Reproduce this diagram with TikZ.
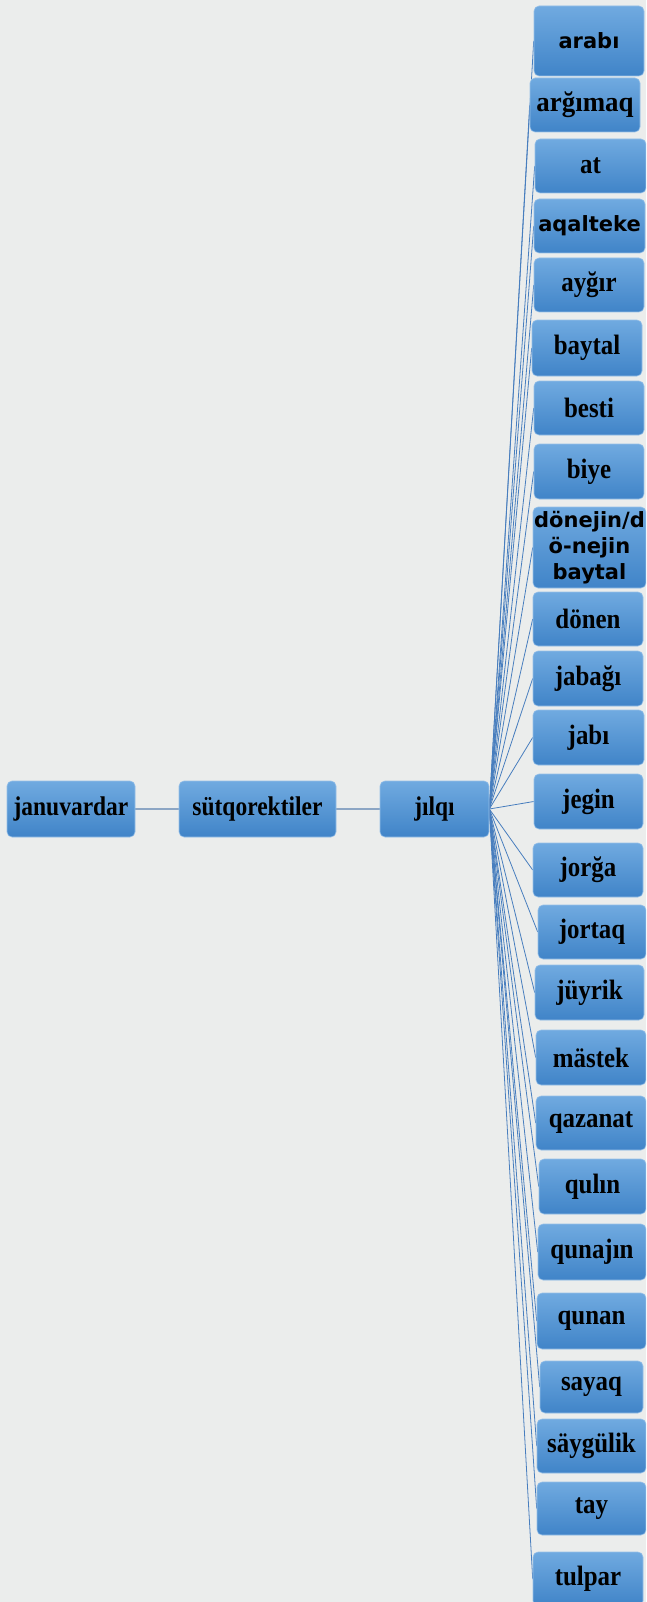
\documentclass[tikz,border=0pt]{standalone}
\usepackage{graphicx}
\usepackage{fontspec}
\setmainfont{Liberation Serif}
\newfontfamily\sansfam{DejaVu Sans}
\usetikzlibrary{backgrounds}
\definecolor{bg}{RGB}{235,237,236}
\definecolor{boxtop}{RGB}{112,170,224}
\definecolor{boxbot}{RGB}{64,132,200}
\definecolor{boxedge}{RGB}{150,192,232}
\definecolor{fan}{RGB}{72,126,190}
\definecolor{link}{RGB}{140,166,196}
% left-column serif labels
\newcommand\lefttxt[1]{\scalebox{0.87}[1]{\fontsize{27}{30}\selectfont\bfseries #1}}
% right-column serif labels
\newcommand\righttxt[2][0.89]{\scalebox{#1}[1]{\fontsize{28}{31}\selectfont\bfseries #2}}
\newcommand\sanstxt[1]{{\sansfam\bfseries\fontsize{21}{26}\selectfont #1}}
\tikzset{
  box/.style={rectangle, rounded corners=5pt, top color=boxtop, bottom color=boxbot,
    draw=boxedge, line width=0.6pt, inner sep=0pt, text=black},
  fanline/.style={draw=fan, line width=0.8pt},
  linkline/.style={draw=link, line width=1.6pt}
}
% \bx{name}{left}{top}{right}{bottom}{text}
\newcommand\bx[6]{\node[box, minimum width={#4pt-#2pt}, minimum height={#5pt-#3pt}] (#1) at ({(#2+#4)/2},{(#3+#5)/2}) {#6};}
\begin{document}
\begin{tikzpicture}[x=1pt,y=-1pt]
\useasboundingbox (0,0) rectangle (646,1602);
\begin{scope}
\clip (0,0) rectangle (646,1602);
\bx{januvardar}{7}{781}{135}{837}{\lefttxt{januvardar}}
\bx{sut}{179}{781}{336}{837}{\lefttxt{sütqorektiler}}
\bx{jilqi}{380}{781}{489}{837}{\lefttxt{jılqı}}

\bx{r1}{534}{6}{644}{76}{\sanstxt{arabı}}
\bx{r2}{530}{78}{640}{132}{\righttxt[0.96]{arğımaq}}
\bx{r3}{535}{139}{646}{193}{\righttxt{at}}
\bx{r4}{534}{199}{645}{253}{\sanstxt{aqalteke}}
\bx{r5}{534}{258}{644}{312}{\righttxt{ayğır}}
\bx{r6}{532}{320}{642}{376}{\righttxt{baytal}}
\bx{r7}{534}{381}{644}{435}{\righttxt{besti}}
\bx{r8}{534}{444}{644}{499}{\righttxt{biye}}
\node[box, minimum width=113pt, minimum height=81pt, align=center,
  font={\sansfam\bfseries\fontsize{21}{26}\selectfont}] (r9) at (589.5,547.5)
  {dönejin/d\\ö-nejin\\baytal};
\bx{r10}{533}{592}{643}{646}{\righttxt{dönen}}
\bx{r11}{533}{651}{643}{706}{\righttxt{jabağı}}
\bx{r12}{533}{710}{644}{765}{\righttxt{jabı}}
\bx{r13}{534}{774}{643}{829}{\righttxt{jegin}}
\bx{r14}{533}{843}{643}{897}{\righttxt{jorğa}}
\bx{r15}{538}{905}{646}{959}{\righttxt{jortaq}}
\bx{r16}{535}{965}{644}{1020}{\righttxt{jüyrik}}
\bx{r17}{536}{1030}{646}{1085}{\righttxt{mästek}}
\bx{r18}{536}{1096}{646}{1150}{\righttxt{qazanat}}
\bx{r19}{539}{1159}{646}{1214}{\righttxt{qulın}}
\bx{r20}{538}{1224}{646}{1280}{\righttxt{qunajın}}
\bx{r21}{537}{1293}{646}{1349}{\righttxt{qunan}}
\bx{r22}{540}{1361}{643}{1413}{\righttxt{sayaq}}
\bx{r23}{537}{1419}{646}{1473}{\righttxt{säygülik}}
\bx{r24}{537}{1482}{646}{1535}{\righttxt{tay}}
\bx{r25}{533}{1552}{643}{1606}{\righttxt{tulpar}}
\end{scope}
\begin{pgfonlayer}{background}
\fill[bg] (0,0) rectangle (646,1602);
\draw[linkline] (januvardar.east) -- (sut.west);
\draw[linkline] (sut.east) -- (jilqi.west);
\foreach \i in {1,...,25}{
  \draw[fanline] (jilqi.east) -- (r\i.west);
}
\end{pgfonlayer}
\end{tikzpicture}
\end{document}
